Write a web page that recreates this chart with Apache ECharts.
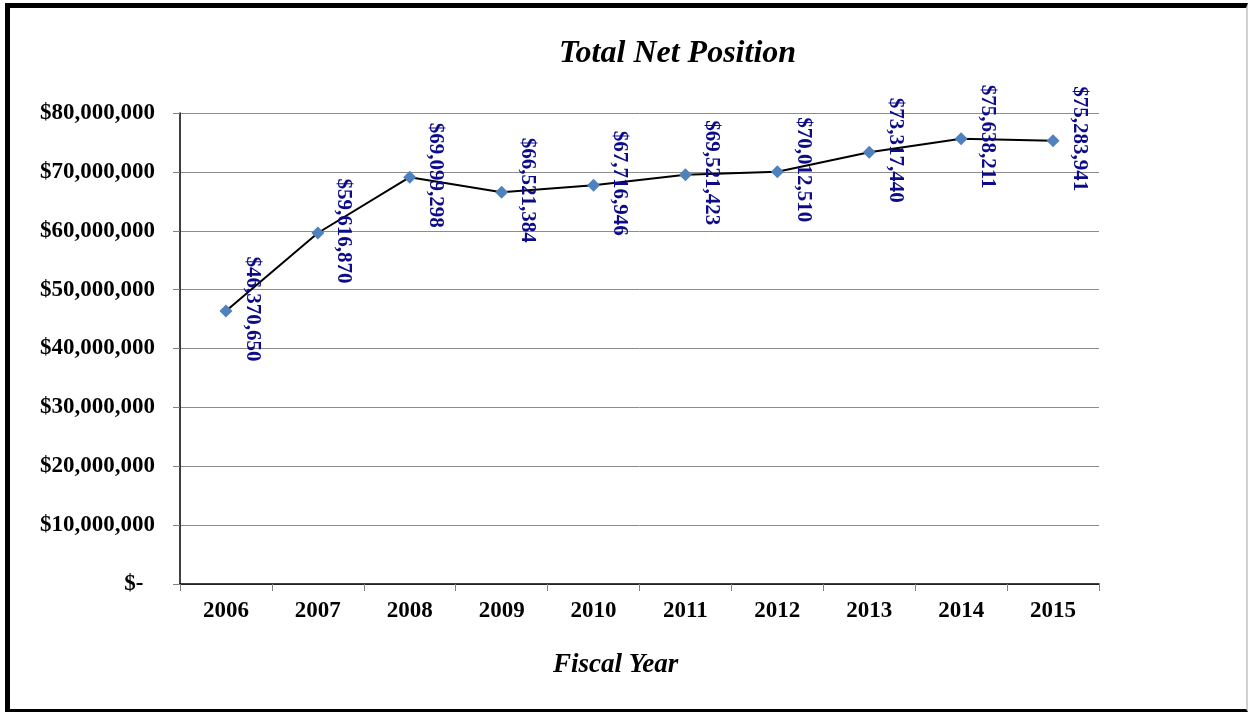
<!DOCTYPE html>
<html>
<head>
<meta charset="utf-8">
<script src="https://cdn.jsdelivr.net/npm/echarts@6/dist/echarts.min.js"></script>
<style>
html,body{margin:0;padding:0;background:#fff;}
#chart{position:absolute;left:0;top:0;width:1249px;height:713px;}
#frame{position:absolute;left:5px;top:3px;width:1236px;height:701px;border-left:5px solid #000;border-top:5px solid #000;border-bottom:3px solid #000;border-right:2px solid #d0d0d0;pointer-events:none;}
</style>
</head>
<body>
<div id="chart"></div>
<div id="frame"></div>
<script>
const years = ['2006','2007','2008','2009','2010','2011','2012','2013','2014','2015'];
const netPosition = [46370650, 59616870, 69099298, 66521384, 67716946, 69521423, 70012510, 73317440, 75638211, 75283941];
const yTicks = [0, 10000000, 20000000, 30000000, 40000000, 50000000, 60000000, 70000000, 80000000];

function money(v){
  if (v === 0) return '$-  ';
  return '$' + Math.round(v).toString().replace(/\B(?=(\d{3})+(?!\d))/g, ',');
}
const font = '"Liberation Serif","Times New Roman",serif';
const chart = echarts.init(document.getElementById('chart'));
chart.setOption({
  animation:false,
  backgroundColor:'#fff',
  title:[{
    text:'Total Net Position', left:554, top:33,
    textStyle:{fontFamily:font, fontSize:32, fontWeight:'bold', fontStyle:'italic', color:'#000'}
  },{
    text:'Fiscal Year', left:548, top:647,
    textStyle:{fontFamily:font, fontSize:27, fontWeight:'bold', fontStyle:'italic', color:'#000'}
  }],
  grid:{left:180, right:150, top:113, bottom:129, containLabel:false},
  xAxis:{
    type:'category', data:years, boundaryGap:true,
    axisLine:{lineStyle:{color:'#000', width:1.5}},
    axisTick:{show:true, length:7, alignWithLabel:false, lineStyle:{color:'#808080'}},
    axisLabel:{fontFamily:font, fontSize:23, fontWeight:'bold', color:'#000', margin:16}
  },
  yAxis:{
    type:'value', min:0, max:80000000, interval:10000000,
    axisLine:{show:true, lineStyle:{color:'#000', width:1.5}},
    axisTick:{show:true, length:7, lineStyle:{color:'#808080'}},
    splitLine:{lineStyle:{color:'#8c8c8c', width:1}},
    axisLabel:{fontFamily:font, fontSize:23, fontWeight:'bold', color:'#000', margin:25,
      formatter:function(v){ return yTicks.indexOf(v) >= 0 ? money(v) : ''; }}
  },
  series:[{
    type:'line', data:netPosition,
    symbol:'diamond', symbolSize:13,
    itemStyle:{color:'#4F81BD'},
    lineStyle:{color:'#000', width:2},
    label:{
      show:true, position:'inside', rotate:-90, offset:[-2,-26],
      align:'center', verticalAlign:'middle',
      fontFamily:font, fontSize:21, fontWeight:'bold', color:'#0c0c8a',
      formatter:function(p){ return money(p.value); }
    }
  }]
});
</script>
</body>
</html>
